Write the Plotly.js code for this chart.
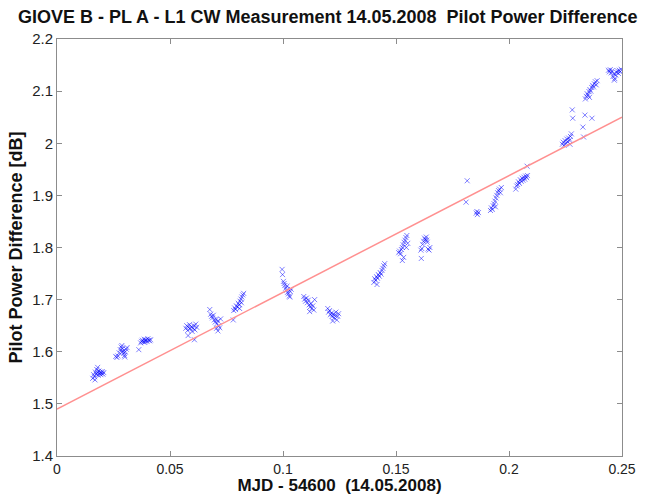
<!DOCTYPE html>
<html>
<head>
<meta charset="utf-8">
<script src="https://cdn.plot.ly/plotly-3.0.1.min.js"></script>
<style>html,body{margin:0;padding:0;background:#fff;}#chart{width:661px;height:495px;}</style>
</head>
<body>
<div id="chart"></div>
<script>
// Measurement points: MJD - 54600 (x) and pilot power difference in dB (y), grouped by cluster per line
const mjd = [
  0.0158,0.0162,0.0166,0.0170,0.0173,0.0176,0.0179,0.0182,0.0185,0.0188,0.0191,0.0194,0.0197,0.0200,0.0203,0.0207,0.0180,0.0168,
  0.0260,0.0265,0.0270,0.0275,0.0280,0.0284,0.0287,0.0290,0.0293,0.0296,0.0299,0.0302,0.0306,0.0310,0.0300,0.0288,
  0.0362,0.0370,0.0374,0.0378,0.0382,0.0386,0.0390,0.0394,0.0398,0.0402,0.0406,0.0410,0.0414,0.0388,
  0.0570,0.0574,0.0578,0.0582,0.0586,0.0590,0.0594,0.0598,0.0602,0.0606,0.0610,0.0614,0.0618,0.0580,0.0608,
  0.0676,0.0680,0.0684,0.0688,0.0692,0.0696,0.0700,0.0704,0.0708,0.0712,0.0716,0.0720,0.0712,0.0724,0.0706,0.0780,
  0.0782,0.0786,0.0790,0.0794,0.0798,0.0802,0.0806,0.0810,0.0814,0.0818,0.0822,0.0826,0.0816,0.0808,
  0.0996,0.0998,0.1002,0.1005,0.1008,0.1012,0.1016,0.1020,0.1024,0.1028,0.1032,0.1036,0.1018,0.1030,
  0.1092,0.1096,0.1100,0.1104,0.1108,0.1112,0.1116,0.1120,0.1124,0.1128,0.1132,0.1136,0.1118,0.1140,
  0.1198,0.1202,0.1206,0.1210,0.1214,0.1218,0.1222,0.1226,0.1230,0.1234,0.1238,0.1242,0.1220,0.1246,
  0.1402,0.1406,0.1410,0.1414,0.1418,0.1422,0.1426,0.1430,0.1434,0.1438,0.1442,0.1446,0.1450,0.1416,
  0.1512,0.1516,0.1520,0.1524,0.1528,0.1532,0.1536,0.1540,0.1544,0.1548,0.1534,0.1528,0.1552,0.1546,
  0.1610,0.1614,0.1618,0.1622,0.1626,0.1630,0.1634,0.1638,0.1642,0.1646,0.1650,0.1612,0.1636,
  0.1815,0.1810,0.1855,0.1860,0.1865,0.1858,
  0.1918,0.1922,0.1926,0.1930,0.1934,0.1938,0.1942,0.1946,0.1950,0.1954,0.1958,0.1962,0.1966,0.1940,
  0.2030,0.2034,0.2038,0.2042,0.2046,0.2050,0.2054,0.2058,0.2062,0.2066,0.2070,0.2074,0.2078,0.2082,0.2080,
  0.2236,0.2240,0.2244,0.2248,0.2252,0.2256,0.2260,0.2264,0.2268,0.2272,0.2276,0.2270,
  0.2280,0.2282,0.2336,0.2367,0.2327,0.2330,
  0.2338,0.2342,0.2346,0.2350,0.2354,0.2358,0.2362,0.2366,0.2370,0.2374,0.2378,0.2382,0.2386,0.2390,0.2356,
  0.2440,0.2444,0.2448,0.2452,0.2456,0.2460,0.2464,0.2468,0.2472,0.2476,0.2480,0.2484,0.2488,0.2492,0.2496,0.2466
];
const powerDiff = [
  1.549,1.556,1.552,1.561,1.557,1.566,1.560,1.555,1.563,1.558,1.561,1.556,1.559,1.562,1.557,1.560,1.570,1.546,
  1.591,1.589,1.592,1.598,1.604,1.609,1.612,1.606,1.601,1.597,1.593,1.600,1.605,1.608,1.590,1.600,
  1.604,1.617,1.620,1.622,1.619,1.624,1.621,1.623,1.620,1.625,1.622,1.621,1.623,1.618,
  1.645,1.650,1.641,1.647,1.652,1.644,1.648,1.639,1.645,1.650,1.642,1.653,1.647,1.631,1.623,
  1.681,1.672,1.668,1.665,1.670,1.661,1.657,1.662,1.654,1.659,1.650,1.646,1.640,1.663,1.645,1.661,
  1.679,1.684,1.681,1.688,1.686,1.693,1.690,1.697,1.701,1.705,1.709,1.712,1.694,1.683,
  1.758,1.748,1.735,1.731,1.727,1.722,1.718,1.714,1.711,1.707,1.716,1.720,1.726,1.705,
  1.706,1.701,1.697,1.703,1.694,1.699,1.690,1.686,1.692,1.683,1.688,1.680,1.677,1.700,
  1.683,1.676,1.679,1.671,1.674,1.668,1.672,1.665,1.670,1.676,1.661,1.668,1.659,1.673,
  1.733,1.740,1.737,1.744,1.741,1.748,1.745,1.752,1.749,1.756,1.760,1.765,1.769,1.729,
  1.790,1.793,1.788,1.796,1.800,1.805,1.810,1.814,1.819,1.823,1.781,1.775,1.808,1.800,
  1.795,1.798,1.806,1.812,1.818,1.815,1.820,1.810,1.797,1.795,1.800,1.779,1.814,
  1.928,1.887,1.866,1.863,1.867,1.869,
  1.871,1.876,1.873,1.880,1.884,1.889,1.895,1.900,1.905,1.909,1.912,1.905,1.915,1.878,
  1.912,1.918,1.921,1.926,1.923,1.930,1.927,1.933,1.929,1.935,1.931,1.937,1.934,1.938,1.956,
  1.998,2.002,1.996,2.005,2.000,2.008,2.003,2.010,2.006,2.013,2.018,1.998,
  2.064,2.048,2.054,2.048,2.031,2.012,
  2.085,2.090,2.095,2.092,2.099,2.103,2.100,2.107,2.111,2.108,2.114,2.118,2.112,2.120,2.088,
  2.140,2.137,2.141,2.135,2.139,2.128,2.133,2.124,2.131,2.136,2.139,2.134,2.140,2.137,2.142,2.121
];
// Linear fit line endpoints
const fitX = [0, 0.25];
const fitY = [1.49, 2.05];
// Axis ticks
const xTicks = [0, 0.05, 0.1, 0.15, 0.2, 0.25];
const xTickLabels = ['0', '0.05', '0.1', '0.15', '0.2', '0.25'];
const yTicks = [1.4, 1.5, 1.6, 1.7, 1.8, 1.9, 2, 2.1, 2.2];
const yTickLabels = ['1.4', '1.5', '1.6', '1.7', '1.8', '1.9', '2', '2.1', '2.2'];

const FONT = 'Liberation Sans, Arial, sans-serif';
const axisCommon = {
  showgrid: false, zeroline: false, showline: true, linecolor: '#8c8c8c', linewidth: 1,
  mirror: 'ticks', ticks: 'inside', ticklen: 5, tickcolor: '#8c8c8c', tickwidth: 1,
  tickfont: {family: FONT, size: 15, color: '#222'}, fixedrange: true
};

const traces = [
  {
    x: mjd, y: powerDiff, type: 'scatter', mode: 'markers', name: 'measurement',
    marker: {symbol: 'x-thin-open', size: 5, color: 'rgba(0,0,255,0.5)', line: {width: 1, color: 'rgba(0,0,255,0.5)'}}
  },
  {
    x: fitX, y: fitY, type: 'scatter', mode: 'lines', name: 'fit',
    line: {color: '#ff9090', width: 1.5}
  }
];

const layout = {
  width: 661, height: 495,
  margin: {l: 57, r: 39, t: 39, b: 39, pad: 0},
  paper_bgcolor: '#ffffff', plot_bgcolor: '#ffffff',
  showlegend: false,
  title: {
    text: '<b>GIOVE B - PL A - L1 CW Measurement 14.05.2008\u00a0 Pilot Power Difference</b>',
    font: {family: FONT, size: 18, color: '#111'},
    x: 0.496, xanchor: 'center', y: 0.966, yref: 'container', yanchor: 'middle'
  },
  xaxis: Object.assign({}, axisCommon, {
    range: [0, 0.25], tickvals: xTicks, ticktext: xTickLabels,
    tickfont: {family: FONT, size: 14, color: '#222'},
    title: {text: '<b>MJD - 54600\u00a0 (14.05.2008)</b>', font: {family: FONT, size: 17, color: '#111'}, standoff: 5}
  }),
  yaxis: Object.assign({}, axisCommon, {
    range: [1.4, 2.2], tickvals: yTicks, ticktext: yTickLabels,
    title: {text: '<b>Pilot Power Difference [dB]</b>', font: {family: FONT, size: 18, color: '#111'}, standoff: 4}
  })
};

Plotly.newPlot('chart', traces, layout, {displayModeBar: false, staticPlot: true});
</script>
</body>
</html>
